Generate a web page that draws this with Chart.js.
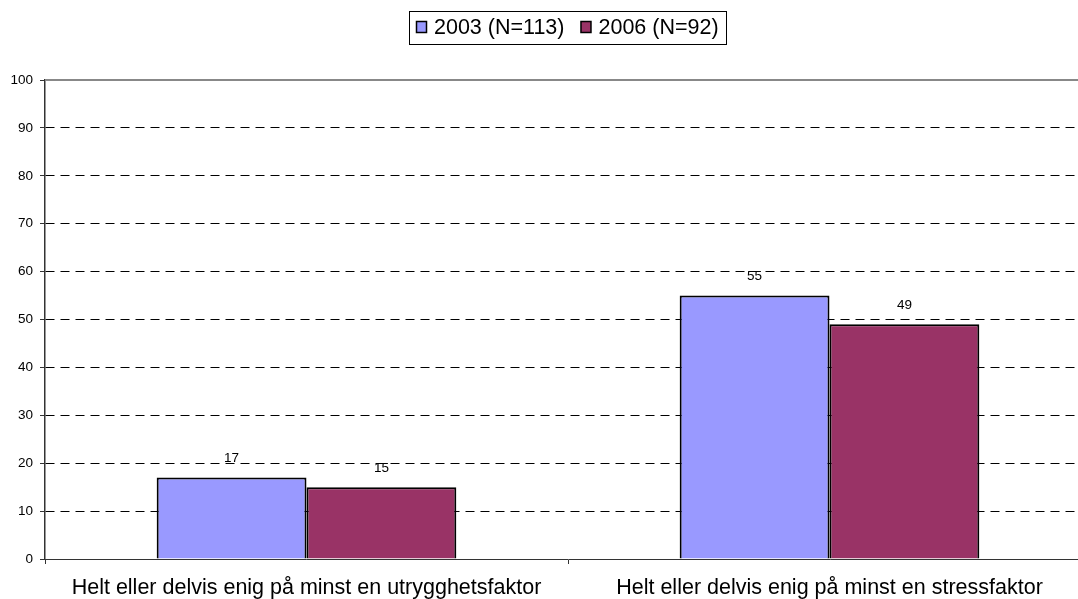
<!DOCTYPE html>
<html>
<head>
<meta charset="utf-8">
<script src="https://cdn.jsdelivr.net/npm/chart.js@4/dist/chart.umd.min.js"></script>
<style>
  html, body { margin: 0; padding: 0; background: #fff; overflow: hidden; }
  #wrap { width: 1100px; height: 599px; position: relative; }
</style>
</head>
<body>
<div id="wrap"><canvas id="myChart"></canvas></div>
<script>
// data
const categories = ['Helt eller delvis enig på minst en utrygghetsfaktor', 'Helt eller delvis enig på minst en stressfaktor'];
const seriesNames = ['2003 (N=113)', '2006 (N=92)'];
const values2003 = [17, 55];
const values2006 = [15, 49];
const yTicks = [0, 10, 20, 30, 40, 50, 60, 70, 80, 90, 100];
const barColors = ['#9999FF', '#993366'];

const FONT = 'Liberation Sans, Arial, sans-serif';

// numbers on top of the bars + the solid 100 line + the boxed legend
const extras = {
  id: 'extras',
  afterDatasetsDraw(chart) {
    const ctx = chart.ctx;
    ctx.save();
    ctx.fillStyle = '#000';
    ctx.font = '13.5px ' + FONT;
    ctx.textAlign = 'center';
    ctx.textBaseline = 'middle';
    chart.data.datasets.forEach((ds, i) => {
      chart.getDatasetMeta(i).data.forEach((bar, j) => {
        ctx.fillText(ds.data[j], bar.x, bar.y - 19);
      });
    });
    // solid top line at 100
    const y = chart.scales.y;
    const top = Math.round(y.getPixelForValue(100));
    ctx.strokeStyle = '#888';
    ctx.lineWidth = 2;
    ctx.beginPath();
    ctx.moveTo(chart.chartArea.left, top);
    ctx.lineTo(chart.chartArea.right, top);
    ctx.stroke();
    ctx.restore();
  },
  afterDraw(chart) {
    const ctx = chart.ctx;
    ctx.save();
    ctx.font = '21.5px ' + FONT;
    ctx.textBaseline = 'middle';
    ctx.textAlign = 'left';
    const boxX = 409, boxY = 11, boxH = 33;
    let x = 416;
    const cy = 27;
    seriesNames.forEach((name, i) => {
      ctx.fillStyle = barColors[i];
      ctx.fillRect(x + 0.5, cy - 5.5, 10, 11);
      ctx.strokeStyle = '#000';
      ctx.lineWidth = 1.5;
      ctx.strokeRect(x + 0.5, cy - 5.5, 10, 11);
      ctx.fillStyle = '#000';
      ctx.fillText(name, x + 18, cy + 1.5);
      x += 18 + ctx.measureText(name).width + 16;
    });
    ctx.strokeStyle = '#000';
    ctx.lineWidth = 1;
    ctx.strokeRect(boxX + 0.5, boxY + 0.5, 726 - boxX, boxH);
    ctx.restore();
  }
};

new Chart(document.getElementById('myChart'), {
  type: 'bar',
  data: {
    labels: categories,
    datasets: [
      { label: seriesNames[0], data: values2003, backgroundColor: barColors[0], borderColor: '#000', borderWidth: 2, borderSkipped: 'bottom' },
      { label: seriesNames[1], data: values2006, backgroundColor: barColors[1], borderColor: '#000', borderWidth: 2, borderSkipped: 'bottom' }
    ]
  },
  options: {
    responsive: true,
    maintainAspectRatio: false,
    animation: false,
    layout: { padding: { top: 80, right: 9, left: 0, bottom: 0 } },
    plugins: {
      legend: { display: false },
      tooltip: { enabled: false }
    },
    datasets: { bar: { barPercentage: 1, categoryPercentage: 0.573 } },
    scales: {
      x: {
        offset: true,
        afterFit(scale) { scale.height = 40; },
        grid: { offset: true, drawOnChartArea: false, drawTicks: true, tickLength: 5, color: '#333' },
        border: { color: '#333', width: 1 },
        ticks: { color: '#000', font: { family: FONT, size: 21.5 }, padding: 11, maxRotation: 0 }
      },
      y: {
        min: 0,
        max: 100,
        afterBuildTicks(scale) { scale.ticks = yTicks.map(v => ({ value: v })); },
        afterFit(scale) { scale.width = 45; },
        grid: {
          color: ctx => (ctx.tick && (ctx.tick.value === 0 || ctx.tick.value === 100)) ? 'rgba(0,0,0,0)' : '#000',
          tickColor: '#333',
          tickLength: 5,
          tickBorderDash: [],
          lineWidth: 1
        },
        border: { color: '#333', width: 1.5, dash: [9, 6] },
        ticks: { color: '#000', font: { family: FONT, size: 13.5 }, padding: 7 }
      }
    }
  },
  plugins: [extras]
});
</script>
</body>
</html>
